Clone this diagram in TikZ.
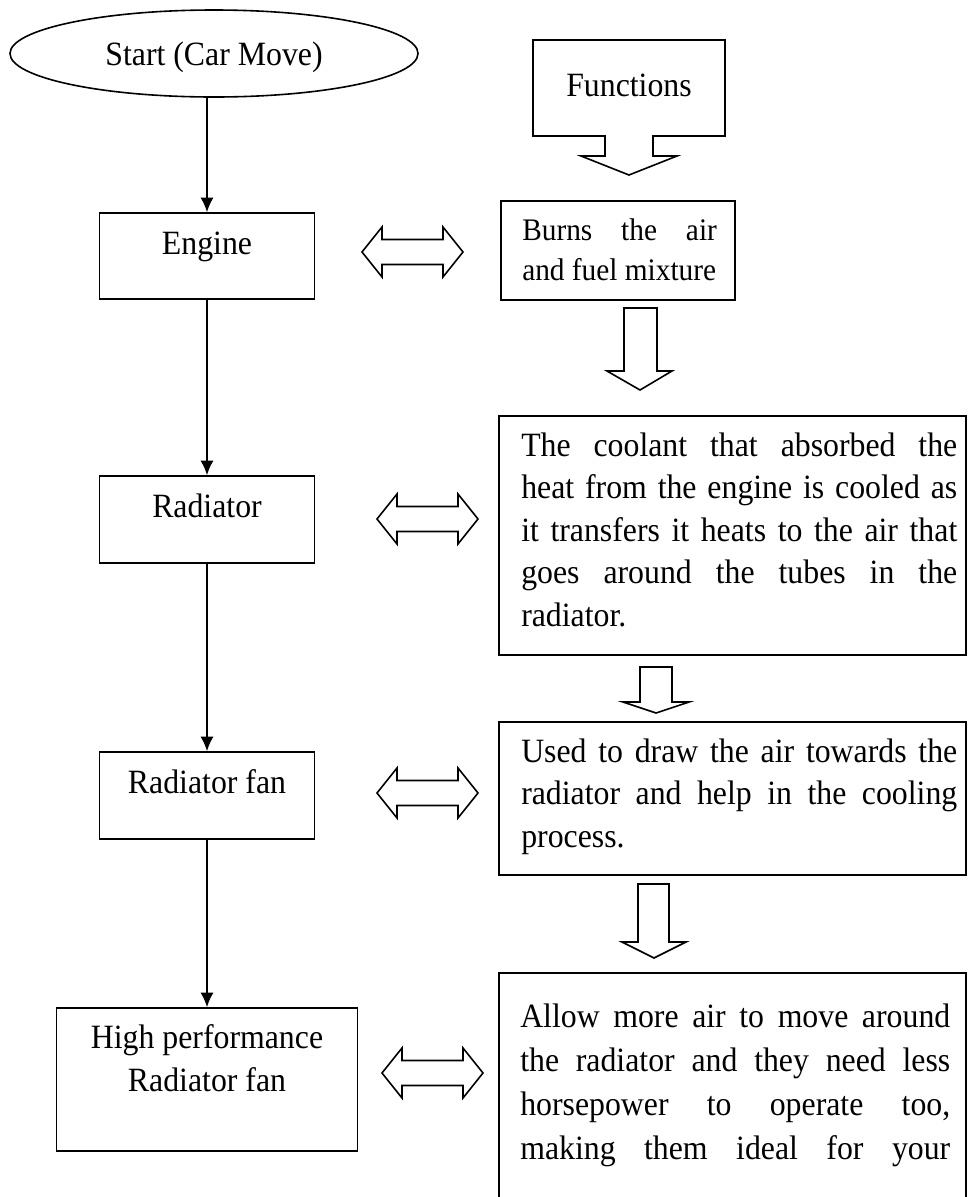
\documentclass[tikz,border=0pt]{standalone}
\usepackage{graphicx}
\usepackage{fontspec}
\setmainfont{Liberation Serif}
\usetikzlibrary{arrows.meta,shapes.geometric}
\newcommand\fs{\fontsize{23.85pt}{28pt}\selectfont}
\newcommand\fsb{\fontsize{22pt}{26pt}\selectfont}
\newcommand\vs[1]{\scalebox{1}[1.07]{#1}}
\newcommand\dblarrow[3]{\draw[blk] (#1,#3) -- (#1+20,#3-25) -- (#1+20,#3-12.5) -- (#2-20,#3-12.5) -- (#2-20,#3-25) -- (#2,#3) -- (#2-20,#3+25) -- (#2-20,#3+12.5) -- (#1+20,#3+12.5) -- (#1+20,#3+25) -- cycle;}
\tikzset{
  lbl/.style={anchor=base, inner sep=0pt, font=\fs},
  tl/.style={anchor=base west, inner sep=0pt, font=\fs},
  box/.style={draw, rectangle, inner sep=0pt, line width=1.2pt},
  blk/.style={line width=1.2pt},
  conn/.style={line width=1.4pt, -{Latex[length=11pt,width=10pt]}},
}
\begin{document}
\begin{tikzpicture}[x=0.75pt,y=-0.75pt]
\useasboundingbox (0,0) rectangle (968,1197);
\clip (0,0) rectangle (968,1197);

% start ellipse
\node[ellipse, draw, line width=1.2pt, inner sep=0pt, minimum width=408*0.75pt, minimum height=87*0.75pt] (start) at (214,53.5) {};
\node[lbl] (startT) at (214,65) {\vs{Start (Car Move)}};

% left boxes
\node[box, minimum width=215*0.75pt, minimum height=86*0.75pt] (engine) at (207,256) {};
\node[lbl] (engineT) at (207,254) {\vs{Engine}};
\node[box, minimum width=215*0.75pt, minimum height=87*0.75pt] (radiator) at (207,519.5) {};
\node[lbl] (radiatorT) at (207,517) {\vs{Radiator}};
\node[box, minimum width=215*0.75pt, minimum height=87*0.75pt] (fan) at (207,795.5) {};
\node[lbl] (fanT) at (207,793) {\vs{Radiator fan}};
\node[box, minimum width=301*0.75pt, minimum height=143*0.75pt] (hp) at (207,1079.5) {};
\node[lbl] (hpT1) at (207,1048) {\vs{High performance}};
\node[lbl] (hpT2) at (207,1091) {\vs{Radiator fan}};

% connectors
\draw[conn] (start.south -| engine.north) -- (engine.north);
\draw[conn] (engine) -- (radiator);
\draw[conn] (radiator) -- (fan);
\draw[conn] (fan) -- (hp);

% functions
\draw[blk] (533,40) -- (725,40) -- (725,136) -- (653,136) -- (653,156) -- (677,156) -- (629,175) -- (581,156) -- (605,156) -- (605,136) -- (533,136) -- cycle;
\node[lbl] (funcT) at (629,96) {\vs{Functions}};

% burns box
\node[box, minimum width=234*0.75pt, minimum height=99*0.75pt] (burns) at (618,250.5) {};
\node[tl, font=\fsb] (b1) at (522,240) {\vs{\makebox[146pt][s]{Burns the air}}};
\node[tl, font=\fsb] (b2) at (522,280) {\vs{and fuel mixture}};

% coolant box
\node[box, minimum width=467*0.75pt, minimum height=239*0.75pt] (coolant) at (732.5,535.5) {};
\node[tl] (c1) at (521,456) {\vs{\makebox[327pt][s]{The coolant that absorbed the}}};
\node[tl] (c2) at (521,498.5) {\vs{\makebox[327pt][s]{heat from the engine is cooled as}}};
\node[tl] (c3) at (521,541) {\vs{\makebox[327pt][s]{it transfers it heats to the air that}}};
\node[tl] (c4) at (521,583.5) {\vs{\makebox[327pt][s]{goes around the tubes in the}}};
\node[tl] (c5) at (521,626) {\vs{radiator.}};

% used box
\node[box, minimum width=467*0.75pt, minimum height=153*0.75pt] (used) at (732.5,798.5) {};
\node[tl] (u1) at (521,762) {\vs{\makebox[327pt][s]{Used to draw the air towards the}}};
\node[tl] (u2) at (521,804.5) {\vs{\makebox[327pt][s]{radiator and help in the cooling}}};
\node[tl] (u3) at (521,847) {\vs{process.}};

% allow box
\node[box, minimum width=467*0.75pt, minimum height=257*0.75pt] (allow) at (732.5,1101.5) {};
\node[tl] (a1) at (520,1027) {\vs{\makebox[322.5pt][s]{Allow more air to move around}}};
\node[tl] (a2) at (520,1071) {\vs{\makebox[322.5pt][s]{the radiator and they need less}}};
\node[tl] (a3) at (520,1115) {\vs{\makebox[322.5pt][s]{horsepower to operate too,}}};
\node[tl] (a4) at (520,1159) {\vs{\makebox[322.5pt][s]{making them ideal for your}}};

% down block arrows
\draw[blk] (624,308) -- (657,308) -- (657,371) -- (672,371) -- (640,390) -- (607,371) -- (624,371) -- cycle;
\draw[blk] (640,667) -- (672,667) -- (672,702) -- (689,702) -- (656,713) -- (623,702) -- (640,702) -- cycle;
\draw[blk] (638,884) -- (669,884) -- (669,942) -- (686,942) -- (654,958) -- (622,942) -- (638,942) -- cycle;

% double arrows
\dblarrow{362}{463}{252}
\dblarrow{377}{478}{519}
\dblarrow{377}{478}{793}
\dblarrow{382}{483}{1073}
\end{tikzpicture}
\end{document}
